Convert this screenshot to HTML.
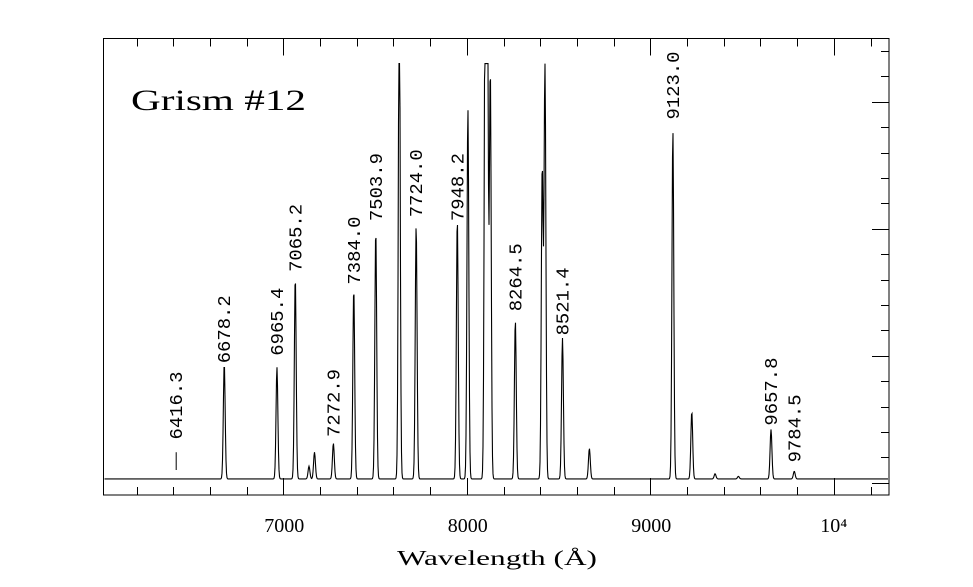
<!DOCTYPE html>
<html><head><meta charset="utf-8"><style>
html,body{margin:0;padding:0;background:#fff}
svg{display:block}
text{font-family:"Liberation Mono","DejaVu Sans Mono",monospace;fill:#000}
</style></head><body>
<svg id="chart" width="973" height="587" viewBox="0 0 973 587" xmlns="http://www.w3.org/2000/svg">
<rect x="103.5" y="38.5" width="785.5" height="456.5" fill="none" stroke="#000" stroke-width="1"/>
<text x="131" y="110" font-size="30" textLength="175" lengthAdjust="spacingAndGlyphs" style='font-family:"Liberation Serif",serif'>Grism #12</text>
<text x="497" y="565" font-size="21" text-anchor="middle" textLength="200" lengthAdjust="spacingAndGlyphs" style='font-family:"Liberation Serif",serif'>Wavelength (Å)</text>
<g id="ticks"></g>
<path id="spec" fill="none" stroke="#000" stroke-width="1.1"/>
<g id="labels"></g>
</svg>
<script>
const xTickMajor = [7000, 8000, 9000, 10000];
const xTickLabels = ["7000", "8000", "9000", "10\u2074"];
const peakWavelengths = [6678.2, 6965.4, 7065.2, 7140, 7170, 7272.9, 7384.0, 7503.9, 7632, 7724.0, 7948.2, 8006, 8100, 8112, 8128, 8264.5, 8411, 8426, 8521.4, 8668, 9123.0, 9226, 9353, 9480, 9657.8, 9784.5];
const peakHeights = [0.91, 0.88, 1.59, 0.10, 0.21, 0.28, 1.50, 1.96, 4.0, 2.0, 2.05, 2.92, 4.0, 4.0, 3.22, 1.25, 2.45, 3.28, 1.11, 0.24, 2.75, 0.53, 0.04, 0.02, 0.39, 0.06];
const labelWavelengths = [6416.3, 6678.2, 6965.4, 7065.2, 7272.9, 7384.0, 7503.9, 7724.0, 7948.2, 8264.5, 8521.4, 9123.0, 9657.8, 9784.5];
const labelTexts = ["6416.3","6678.2","6965.4","7065.2","7272.9","7384.0","7503.9","7724.0","7948.2","8264.5","8521.4","9123.0","9657.8","9784.5"];
const labelLevels = [0.34, 0.94, 1.0, 1.66, 0.36, 1.56, 2.06, 2.09, 2.06, 1.35, 1.16, 2.86, 0.45, 0.16];
const baseline = 0.03, saturation = 3.3;

const X0=103.5, X1=889, Y0=38.5, Y1=495;
const xs = w => 283.3 + (w-7000)*0.1835;
const ys = v => 482.7 - v*127;
const NS="http://www.w3.org/2000/svg";
const ticks=document.getElementById('ticks');
function ln(x1,y1,x2,y2,name){const l=document.createElementNS(NS,'line');
l.setAttribute('x1',x1);l.setAttribute('y1',y1);l.setAttribute('x2',x2);l.setAttribute('y2',y2);
l.setAttribute('stroke','#000');l.setAttribute('stroke-width','1');


ticks.appendChild(l);}
for(let w=6200; w<=10200; w+=200){
  const x=Math.round(xs(w))+0.5, maj=(w%1000===0), L=maj?17:8;
  ln(x,Y0,x,Y0+L,'x-tick-top');
  ln(x,Y1,x,Y1-L,'x-tick-bottom');
}
for(let v=0; v<=3.41; v+=0.2){
  const y=Math.round(ys(v))+0.5, maj=Math.abs(v-Math.round(v))<0.01, L=maj?17:8;
  ln(X1,y,X1-L,y,'y-tick-right');
}
xTickMajor.forEach((w,i)=>{
  const t=document.createElementNS(NS,'text');
  t.setAttribute('x',xs(w)+(i===3?0:1));t.setAttribute('y',532);
  t.setAttribute('font-size','20');t.setAttribute('text-anchor','middle');
  t.setAttribute('style','font-family:"Liberation Serif",serif');
  
  
  t.textContent=xTickLabels[i];ticks.appendChild(t);
});
let d='';
for(let px=X0+1; px<=X1-1; px+=0.5){
  const w=7000+(px-283.3)/0.1835;
  let v=baseline;
  for(let i=0;i<peakWavelengths.length;i++){
    const s=5, dx=w-peakWavelengths[i];
    v+=peakHeights[i]*Math.exp(-dx*dx/(2*s*s));
  }
  v=Math.min(v,saturation);
  d+=(d?'L':'M')+px.toFixed(1)+' '+ys(v).toFixed(1);
}
document.getElementById('spec').setAttribute('d',d);
const lg=document.getElementById('labels');
labelWavelengths.forEach((w,i)=>{
  const x=xs(w), yb=ys(labelLevels[i]);
  const t=document.createElementNS(NS,'text');
  t.setAttribute('transform',`translate(${(x+6).toFixed(1)},${yb.toFixed(1)}) rotate(-90)`);
  t.setAttribute('font-size','18');
  t.setAttribute('textLength','68');t.setAttribute('lengthAdjust','spacingAndGlyphs');
  
  
  t.textContent=labelTexts[i];lg.appendChild(t);
  if(i===0){
    const l=document.createElementNS(NS,'line');
    l.setAttribute('x1',x);l.setAttribute('x2',x);l.setAttribute('y1',ys(0.24));l.setAttribute('y2',ys(0.1));
    l.setAttribute('stroke','#000');
    
    
    lg.appendChild(l);
  }
});
</script>
</body></html>
